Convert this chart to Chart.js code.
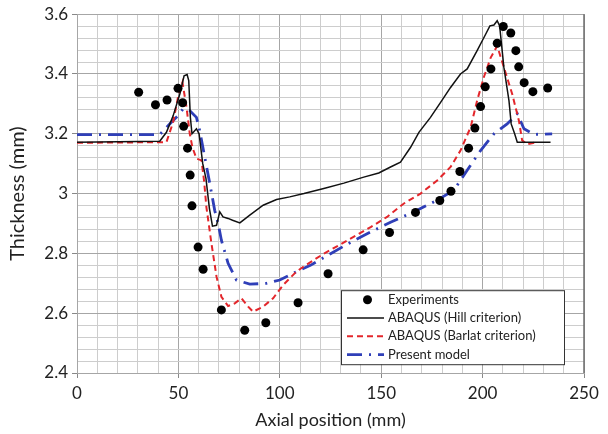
<!DOCTYPE html>
<html><head><meta charset="utf-8">
<script src="https://cdn.jsdelivr.net/npm/chart.js@4/dist/chart.umd.min.js"></script>
<style>html,body{margin:0;padding:0;background:#fff}canvas{display:block}</style>
</head><body>
<canvas id="c" width="608" height="434"></canvas>
<script>
const seriesNames = ['Experiments', 'ABAQUS (Hill criterion)', 'ABAQUS (Barlat criterion)', 'Present model'];
const xTickValues = [0, 50, 100, 150, 200, 250];
const yTickValues = [2.4, 2.6, 2.8, 3, 3.2, 3.4, 3.6];

const expX = [30.4, 38.7, 44.4, 49.8, 52.1, 52.6, 54.5, 55.8, 56.7, 59.7, 62.2, 71.2, 82.7, 93.1, 109.0, 123.8, 141.1, 154.1, 166.9, 178.9, 184.4, 188.8, 193.1, 196.2, 199.0, 201.3, 204.1, 207.2, 210.2, 213.9, 216.4, 217.8, 220.5, 224.8, 232.1];
const expY = [3.339, 3.297, 3.313, 3.352, 3.304, 3.225, 3.152, 3.062, 2.959, 2.821, 2.747, 2.611, 2.543, 2.568, 2.635, 2.732, 2.812, 2.870, 2.937, 2.977, 3.008, 3.074, 3.152, 3.219, 3.291, 3.357, 3.417, 3.503, 3.559, 3.537, 3.478, 3.424, 3.371, 3.341, 3.353];

const hillX = [0, 40.8, 44.1, 47.4, 50.7, 52.8, 54.3, 55.1, 55.9, 56.7, 58.9, 60.2, 62.0, 63.6, 65.3, 66.8, 68.8, 70.4, 72.0, 74.5, 76.7, 80.3, 85.2, 91.8, 98.4, 104.9, 111.9, 121.7, 131.6, 141.4, 148.8, 154.6, 159.5, 164.5, 168.6, 174.3, 179.3, 184.2, 189.1, 192.4, 197.3, 201.5, 203.6, 205.6, 207.2, 208.4, 210.5, 213.0, 214.1, 215.8, 217.1, 233.5];
const hillY = [3.172, 3.175, 3.205, 3.26, 3.333, 3.394, 3.398, 3.378, 3.255, 3.2, 3.217, 3.2, 3.1, 3.05, 2.95, 2.891, 2.894, 2.939, 2.922, 2.917, 2.911, 2.902, 2.928, 2.961, 2.98, 2.989, 3.0, 3.017, 3.035, 3.055, 3.069, 3.089, 3.105, 3.155, 3.205, 3.255, 3.305, 3.355, 3.4, 3.417, 3.478, 3.533, 3.561, 3.564, 3.578, 3.561, 3.422, 3.311, 3.233, 3.2, 3.172, 3.172];

const barlatX = [0, 44.1, 47.4, 49.8, 52.0, 54.0, 55.6, 56.9, 58.9, 61.4, 62.7, 63.8, 66.3, 68.8, 71.2, 74.5, 77.8, 81.1, 84.4, 86.8, 91.8, 96.7, 101.6, 108.2, 111.9, 121.7, 133.2, 144.8, 152.9, 161.2, 169.4, 177.6, 184.2, 189.1, 194.1, 197.3, 200.6, 204.0, 207.2, 210.5, 214.6, 217.9, 219.5, 222.0, 226.6];
const barlatY = [3.17, 3.172, 3.239, 3.322, 3.372, 3.289, 3.2, 3.155, 3.117, 3.111, 3.04, 2.955, 2.833, 2.722, 2.655, 2.624, 2.633, 2.65, 2.622, 2.605, 2.622, 2.65, 2.694, 2.739, 2.757, 2.799, 2.843, 2.888, 2.922, 2.967, 3.0, 3.044, 3.089, 3.144, 3.222, 3.311, 3.389, 3.455, 3.494, 3.422, 3.333, 3.244, 3.178, 3.165, 3.172];

const modelX = [0, 40.8, 45.7, 49.8, 52.5, 55.5, 58.9, 60.5, 63.0, 65.5, 67.9, 69.6, 71.2, 74.5, 78.6, 85.2, 93.4, 100.0, 108.2, 115.1, 125.0, 136.5, 146.4, 154.6, 167.7, 177.6, 185.8, 192.4, 199.0, 205.6, 212.1, 217.1, 220.4, 225.3, 234.3];
const modelY = [3.197, 3.197, 3.233, 3.261, 3.285, 3.278, 3.255, 3.211, 3.122, 3.033, 2.944, 2.9, 2.844, 2.767, 2.711, 2.697, 2.7, 2.711, 2.739, 2.76, 2.799, 2.843, 2.877, 2.904, 2.944, 2.978, 3.011, 3.078, 3.144, 3.2, 3.233, 3.267, 3.217, 3.198, 3.2];

const toPts = (xs, ys) => xs.map((x, i) => ({x: x, y: ys[i]}));
const FONT = 'Lato, "Open Sans", sans-serif';
const isMult = (v, s) => Math.abs(v / s - Math.round(v / s)) < 1e-6;

const frameAndLegend = {
  id: 'frameAndLegend',
  beforeDatasetsDraw(chart) {
    const {ctx, chartArea: a} = chart;
    ctx.save();
    ctx.strokeStyle = '#6e6e6e';
    ctx.lineWidth = 1.5;
    ctx.beginPath();
    ctx.moveTo(a.right, a.top); ctx.lineTo(a.right, a.bottom);
    ctx.stroke();
    ctx.restore();
  },
  afterDatasetsDraw(chart) {
    const {ctx, chartArea: a} = chart;
    const bx = a.left + 264, by = a.top + 276, bw = 223, bh = 74;
    ctx.save();
    ctx.fillStyle = '#fff';
    ctx.fillRect(bx, by, bw, bh);
    ctx.strokeStyle = '#333';
    ctx.lineWidth = 1;
    ctx.strokeRect(bx + 0.5, by + 0.5, bw, bh);
    ctx.font = '13px ' + FONT;
    ctx.textBaseline = 'middle';
    ctx.textAlign = 'left';
    chart.data.datasets.forEach((ds, i) => {
      const yy = by + 9.5 + i * 18.3;
      if (ds.showLine === false) {
        ctx.fillStyle = ds.pointBackgroundColor;
        ctx.beginPath();
        ctx.arc(bx + 26.5, yy, ds.pointRadius, 0, Math.PI * 2);
        ctx.fill();
      } else {
        ctx.strokeStyle = ds.borderColor;
        ctx.lineWidth = ds.borderWidth;
        ctx.setLineDash(ds.borderDash || []);
        ctx.beginPath();
        ctx.moveTo(bx + 6, yy); ctx.lineTo(bx + 43, yy);
        ctx.stroke();
        ctx.setLineDash([]);
      }
      ctx.fillStyle = '#222';
      ctx.fillText(ds.label, bx + 47, yy);
    });
    ctx.restore();
  }
};

new Chart(document.getElementById('c'), {
  type: 'scatter',
  data: {
    datasets: [
      {label: seriesNames[0], data: toPts(expX, expY), showLine: false, pointRadius: 4.5, pointBackgroundColor: '#000', pointBorderWidth: 0, borderColor: '#000'},
      {label: seriesNames[1], data: toPts(hillX, hillY), showLine: true, borderColor: '#111', borderWidth: 1.5, pointRadius: 0, tension: 0},
      {label: seriesNames[2], data: toPts(barlatX, barlatY), showLine: true, borderColor: '#e3262b', borderWidth: 2, borderDash: [6, 4], pointRadius: 0, tension: 0},
      {label: seriesNames[3], data: toPts(modelX, modelY), showLine: true, borderColor: '#2f3fb8', borderWidth: 2.8, borderDash: [15, 7, 2, 7], pointRadius: 0, tension: 0}
    ]
  },
  options: {
    responsive: false,
    animation: false,
    events: [],
    layout: {padding: {left: 0, right: 24, top: 13, bottom: 0}},
    plugins: {legend: {display: false}, tooltip: {enabled: false}},
    scales: {
      x: {
        type: 'linear', min: 0, max: 250,
        afterFit: s => { s.height = 61; },
        ticks: {stepSize: 10, autoSkip: false, maxRotation: 0, padding: 5, color: '#222',
          font: {family: FONT, size: 17},
          callback: v => xTickValues.includes(v) ? String(v) : ''},
        grid: {
          color: c => isMult(c.tick.value, 50) ? '#a6a6a6' : '#cdcdcd',
          tickColor: c => isMult(c.tick.value, 50) ? '#888' : 'rgba(0,0,0,0)',
          tickLength: 5
        },
        border: {color: '#a6a6a6'},
        title: {display: true, text: 'Axial position (mm)', color: '#222', font: {family: FONT, size: 18}, padding: {top: 0, bottom: 3}}
      },
      y: {
        type: 'linear', min: 2.4, max: 3.6,
        afterFit: s => { s.width = 77; },
        ticks: {stepSize: 0.04, autoSkip: false, padding: 4, color: '#222',
          font: {family: FONT, size: 17},
          callback: v => yTickValues.some(t => Math.abs(t - v) < 1e-6) ? String(+Number(v).toFixed(1)) : ''},
        grid: {
          color: c => isMult(c.tick.value, 0.2) ? '#a6a6a6' : '#cdcdcd',
          tickColor: c => isMult(c.tick.value, 0.2) ? '#888' : 'rgba(0,0,0,0)',
          tickLength: 5
        },
        border: {color: '#a6a6a6'},
        title: {display: true, text: 'Thickness (mm)', color: '#222', font: {family: FONT, size: 20}, padding: {top: 6, bottom: 0}}
      }
    }
  },
  plugins: [frameAndLegend]
});
</script>
</body></html>
